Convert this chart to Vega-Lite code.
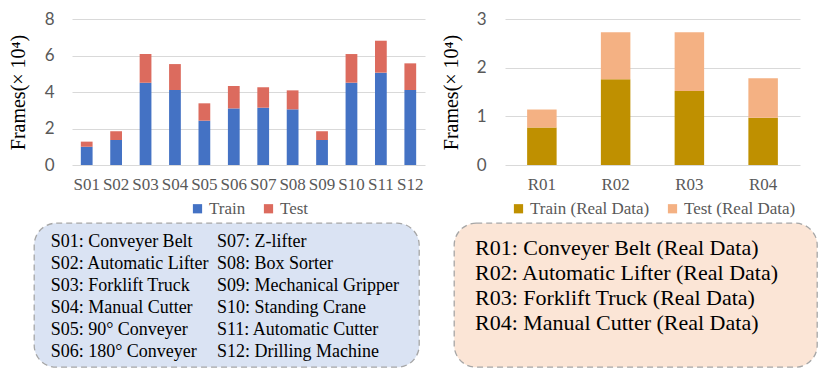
{
  "$schema": "https://vega.github.io/schema/vega-lite/v6.json",
  "background": "white",
  "padding": {"left": 8, "top": 10, "right": 2, "bottom": 2},
  "config": {
    "view": {"stroke": null},
    "axis": {"titleFontWeight": "normal"},
    "legend": {"layout": {"bottom": {"anchor": "middle"}}}
  },
  "resolve": {"scale": {"color": "independent", "x": "independent", "y": "independent"}, "legend": {"color": "independent"}},
  "datasets": {
    "sim": [
      {"id": "S01", "series": "Train", "v": 1.0}, {"id": "S01", "series": "Test", "v": 0.28},
      {"id": "S02", "series": "Train", "v": 1.37}, {"id": "S02", "series": "Test", "v": 0.48},
      {"id": "S03", "series": "Train", "v": 4.51}, {"id": "S03", "series": "Test", "v": 1.57},
      {"id": "S04", "series": "Train", "v": 4.11}, {"id": "S04", "series": "Test", "v": 1.42},
      {"id": "S05", "series": "Train", "v": 2.43}, {"id": "S05", "series": "Test", "v": 0.95},
      {"id": "S06", "series": "Train", "v": 3.10}, {"id": "S06", "series": "Test", "v": 1.23},
      {"id": "S07", "series": "Train", "v": 3.14}, {"id": "S07", "series": "Test", "v": 1.12},
      {"id": "S08", "series": "Train", "v": 3.05}, {"id": "S08", "series": "Test", "v": 1.04},
      {"id": "S09", "series": "Train", "v": 1.37}, {"id": "S09", "series": "Test", "v": 0.48},
      {"id": "S10", "series": "Train", "v": 4.51}, {"id": "S10", "series": "Test", "v": 1.57},
      {"id": "S11", "series": "Train", "v": 5.06}, {"id": "S11", "series": "Test", "v": 1.75},
      {"id": "S12", "series": "Train", "v": 4.11}, {"id": "S12", "series": "Test", "v": 1.46}
    ],
    "real": [
      {"id": "R01", "series": "Train (Real Data)", "v": 0.77}, {"id": "R01", "series": "Test (Real Data)", "v": 0.37},
      {"id": "R02", "series": "Train (Real Data)", "v": 1.76}, {"id": "R02", "series": "Test (Real Data)", "v": 0.97},
      {"id": "R03", "series": "Train (Real Data)", "v": 1.52}, {"id": "R03", "series": "Test (Real Data)", "v": 1.21},
      {"id": "R04", "series": "Train (Real Data)", "v": 0.97}, {"id": "R04", "series": "Test (Real Data)", "v": 0.81}
    ],
    "simNames": [
      {"col": 0, "row": 1, "label": "S01: Conveyer Belt"},
      {"col": 0, "row": 2, "label": "S02: Automatic Lifter"},
      {"col": 0, "row": 3, "label": "S03: Forklift Truck"},
      {"col": 0, "row": 4, "label": "S04: Manual Cutter"},
      {"col": 0, "row": 5, "label": "S05: 90° Conveyer"},
      {"col": 0, "row": 6, "label": "S06: 180° Conveyer"},
      {"col": 1, "row": 1, "label": "S07: Z-lifter"},
      {"col": 1, "row": 2, "label": "S08: Box Sorter"},
      {"col": 1, "row": 3, "label": "S09: Mechanical Gripper"},
      {"col": 1, "row": 4, "label": "S10: Standing Crane"},
      {"col": 1, "row": 5, "label": "S11: Automatic Cutter"},
      {"col": 1, "row": 6, "label": "S12: Drilling Machine"}
    ],
    "realNames": [
      {"col": 0, "row": 1, "label": "R01: Conveyer Belt (Real Data)"},
      {"col": 0, "row": 2, "label": "R02: Automatic Lifter (Real Data)"},
      {"col": 0, "row": 3, "label": "R03: Forklift Truck (Real Data)"},
      {"col": 0, "row": 4, "label": "R04: Manual Cutter (Real Data)"}
    ],
    "dummy": [{"v": 0}]
  },
  "spacing": 16,
  "hconcat": [
    {
      "spacing": 5,
      "resolve": {"scale": {"color": "independent", "x": "independent", "y": "independent"}, "legend": {"color": "independent"}},
      "vconcat": [
        {
          "spacing": 0,
          "resolve": {"scale": {"color": "independent", "x": "independent", "y": "independent"}, "legend": {"color": "independent"}},
          "hconcat": [
            {
              "width": 10, "height": 146,
              "data": {"name": "dummy"},
              "mark": {"type": "point", "opacity": 0},
              "encoding": {
                "y": {"field": "v", "type": "quantitative",
                  "axis": {"title": "Frames(× 10⁴)", "labels": false, "ticks": false, "domain": false, "grid": false,
                    "titlePadding": 6, "titleFont": "Liberation Serif", "titleFontSize": 20, "titleColor": "black"}}
              }
            },
            {
              "width": 353, "height": 146,
              "data": {"name": "sim"},
              "mark": {"type": "bar"},
              "encoding": {
                "x": {"field": "id", "type": "nominal", "title": null,
                  "scale": {"paddingInner": 0.6, "paddingOuter": 0.3},
                  "axis": {"labelAngle": 0, "labelFont": "Liberation Serif", "labelFontSize": 17, "labelColor": "#595959",
                    "ticks": false, "domain": false, "labelPadding": 11}},
                "y": {"field": "v", "type": "quantitative", "stack": "zero", "title": null,
                  "scale": {"domain": [0, 8], "nice": false},
                  "axis": {"values": [0, 2, 4, 6, 8], "labelFont": "Lato", "labelFontSize": 17, "labelColor": "#595959",
                    "ticks": false, "domain": false, "labelPadding": 18, "gridColor": "#d9d9d9"}},
                "color": {"field": "series", "type": "nominal",
                  "scale": {"domain": ["Train", "Test"], "range": ["#4472c4", "#dc6b5e"]},
                  "legend": {"title": null, "orient": "bottom", "direction": "horizontal", "symbolType": "square",
                    "symbolSize": 85, "symbolStrokeWidth": 0, "labelFont": "Liberation Serif", "labelFontSize": 17,
                    "labelColor": "#595959", "offset": 8, "columnPadding": 14, "labelOffset": 3}},
                "order": {"field": "series", "type": "nominal", "sort": "descending"}
              }
            }
          ]
        },
        {
          "width": 385, "height": 144,
          "view": {"fill": "#dae3f3", "stroke": "#a6a6a6", "strokeWidth": 1.3, "strokeDash": [6, 4], "cornerRadius": 22},
          "data": {"name": "simNames"},
          "mark": {"type": "text", "align": "left", "baseline": "middle", "font": "Liberation Serif", "fontSize": 18, "color": "black"},
          "encoding": {
            "x": {"field": "col", "type": "quantitative", "scale": {"domain": [-0.1, 2.215], "nice": false, "zero": false}, "axis": null},
            "y": {"field": "row", "type": "quantitative", "scale": {"domain": [0.154, 6.67], "nice": false, "zero": false, "reverse": true}, "axis": null},
            "text": {"field": "label"}
          }
        }
      ]
    },
    {
      "spacing": 5,
      "resolve": {"scale": {"color": "independent", "x": "independent", "y": "independent"}, "legend": {"color": "independent"}},
      "vconcat": [
        {
          "spacing": 0,
          "resolve": {"scale": {"color": "independent", "x": "independent", "y": "independent"}, "legend": {"color": "independent"}},
          "hconcat": [
            {
              "width": 22, "height": 146,
              "data": {"name": "dummy"},
              "mark": {"type": "point", "opacity": 0},
              "encoding": {
                "y": {"field": "v", "type": "quantitative",
                  "axis": {"title": "Frames(× 10⁴)", "labels": false, "ticks": false, "domain": false, "grid": false,
                    "offset": -7, "titlePadding": 0, "titleFont": "Liberation Serif", "titleFontSize": 20, "titleColor": "black"}}
              }
            },
            {
              "width": 295, "height": 146,
              "data": {"name": "real"},
              "mark": {"type": "bar"},
              "encoding": {
                "x": {"field": "id", "type": "nominal", "title": null,
                  "scale": {"paddingInner": 0.6, "paddingOuter": 0.3},
                  "axis": {"labelAngle": 0, "labelFont": "Liberation Serif", "labelFontSize": 17, "labelColor": "#595959",
                    "ticks": false, "domain": false, "labelPadding": 11}},
                "y": {"field": "v", "type": "quantitative", "stack": "zero", "title": null,
                  "scale": {"domain": [0, 3], "nice": false},
                  "axis": {"values": [0, 1, 2, 3], "labelFont": "Lato", "labelFontSize": 17, "labelColor": "#595959",
                    "ticks": false, "domain": false, "labelPadding": 19, "gridColor": "#d9d9d9"}},
                "color": {"field": "series", "type": "nominal",
                  "scale": {"domain": ["Train (Real Data)", "Test (Real Data)"], "range": ["#bf9000", "#f4b183"]},
                  "legend": {"title": null, "orient": "bottom", "direction": "horizontal", "symbolType": "square",
                    "symbolSize": 85, "symbolStrokeWidth": 0, "labelFont": "Liberation Serif", "labelFontSize": 17,
                    "labelColor": "#595959", "offset": 8, "columnPadding": 14, "labelOffset": 3}},
                "order": {"field": "series", "type": "nominal", "sort": "descending"}
              }
            }
          ]
        },
        {
          "width": 363, "height": 144,
          "view": {"fill": "#fbe5d6", "stroke": "#a6a6a6", "strokeWidth": 1.3, "strokeDash": [6, 4], "cornerRadius": 22},
          "data": {"name": "realNames"},
          "mark": {"type": "text", "align": "left", "baseline": "middle", "font": "Liberation Serif", "fontSize": 22, "color": "black"},
          "encoding": {
            "x": {"field": "col", "type": "quantitative", "scale": {"domain": [-1, 16.286], "nice": false, "zero": false}, "axis": null},
            "y": {"field": "row", "type": "quantitative", "scale": {"domain": [-0.02, 5.786], "nice": false, "zero": false, "reverse": true}, "axis": null},
            "text": {"field": "label"}
          }
        }
      ]
    }
  ]
}
